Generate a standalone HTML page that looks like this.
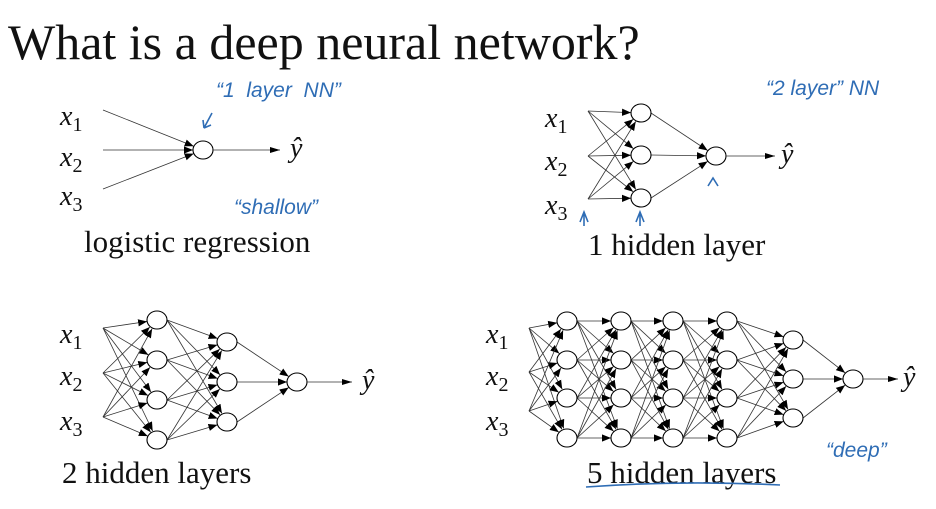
<!DOCTYPE html>
<html><head><meta charset="utf-8"><style>
body{margin:0;width:936px;height:509px;background:#fff;overflow:hidden;position:relative;font-family:"Liberation Serif",serif}
.t{position:absolute;white-space:nowrap;color:#111;line-height:1}
.h{position:absolute;white-space:nowrap;color:#2f6db5;font-family:"Liberation Sans",sans-serif;font-size:21px;font-style:italic;line-height:1}
svg{position:absolute;left:0;top:0}
</style></head><body>
<div class="t" style="left:8px;top:17px;font-size:50px">What is a deep neural network?</div>
<div class="t" style="left:84px;top:226px;font-size:31px">logistic regression</div>
<div class="t" style="left:588px;top:229px;font-size:31px">1 hidden layer</div>
<div class="t" style="left:62px;top:457px;font-size:31px">2 hidden layers</div>
<div class="t" style="left:587px;top:457px;font-size:31px">5 hidden layers</div>
<div class="h" style="left:216px;top:80px">“1 &nbsp;layer &nbsp;NN”</div>
<div class="h" style="left:234px;top:197px">“shallow”</div>
<div class="h" style="left:766px;top:78px">“2 layer” NN</div>
<div class="h" style="left:826px;top:440px">“deep”</div>
<svg width="936" height="509" id="s">
<defs><marker id="a" viewBox="0 0 10 10" refX="10" refY="5" markerWidth="9" markerHeight="9" markerUnits="userSpaceOnUse" orient="auto"><path d="M0,1 L10,5 L0,9z" fill="#000"/></marker>
<marker id="b" viewBox="0 0 10 10" refX="10" refY="5" markerWidth="10" markerHeight="10" markerUnits="userSpaceOnUse" orient="auto"><path d="M0,2 L10,5 L0,8z" fill="#000"/></marker></defs>
<g id="g" stroke="#333" stroke-width="0.8" fill="none"></g>
<g stroke="#2f6db5" stroke-width="1.6" fill="none">
<path d="M212,113 L204,128 M204,128 L203,120 M204,128 L211,125"/>
<path d="M580,222 L584,212 L588,222 M584,212 L584,226"/>
<path d="M636,222 L640,212 L644,222 M640,212 L640,226"/>
<path d="M708,186 L713,178 L718,186"/>
<path d="M586,487 Q680,480 780,485"/>
</g>
<g font-family="Liberation Serif,serif" font-style="italic" font-size="28" fill="#111" id="x"></g>
</svg>
<script>
var g=document.getElementById('g'),X=document.getElementById('x'),NS='http://www.w3.org/2000/svg';
function el(t,a,p){var e=document.createElementNS(NS,t);for(var k in a)e.setAttribute(k,a[k]);(p||g).appendChild(e);return e;}
var RX=10,RY=9;
function line(x1,y1,x2,y2,m){var dx=x2-x1,dy=y2-y1,d=Math.hypot(dx,dy);el('line',{x1:x1,y1:y1,x2:x2-dx/d*RX,y2:y2-dy/d*RX,'marker-end':m?'url(#a)':''});}
function net(layers,ins,ox,out,yx){
 ins.forEach(function(y){layers[0].ys.forEach(function(y2){line(ox,y,layers[0].x,y2,1);});});
 for(var i=1;i<layers.length;i++)layers[i-1].ys.forEach(function(y1){layers[i].ys.forEach(function(y2){line(layers[i-1].x+RX,y1,layers[i].x,y2,1);});});
 layers.forEach(function(L){L.ys.forEach(function(y){el('ellipse',{cx:L.x,cy:y,rx:RX,ry:RY,fill:'#fff',stroke:'#000','stroke-width':1.1});});});
 var o=layers[layers.length-1];el('line',{x1:o.x+RX,y1:o.ys[0],x2:out,y2:o.ys[0],'marker-end':'url(#b)'});
 var t=el('text',{x:yx,y:o.ys[0]+7},X);t.textContent='ŷ';
}
function xs(x,ys){ys.forEach(function(y,i){var t=el('text',{x:x,y:y},X);t.textContent='x';var s=el('tspan',{dy:6,'font-size':20,'font-style':'normal'},t);s.textContent=(i+1);});}
net([{x:203,ys:[150]}],[110,150,189],103,280,290);
xs(60,[125,166,205]);
net([{x:641,ys:[113,155,198]},{x:716,ys:[156]}],[111,156,199],588,775,781);
xs(545,[127,170,214]);
net([{x:157,ys:[320,360,400,440]},{x:227,ys:[342,382,422]},{x:297,ys:[382]}],[328,373,417],103,352,362);
xs(60,[343,385,430]);
var R=[321,360,398,438];
net([{x:567,ys:R},{x:621,ys:R},{x:673,ys:R},{x:727,ys:R},{x:793,ys:[340,379,418]},{x:853,ys:[379]}],[328,372,411],529,898,903);
xs(486,[343,385,430]);
</script>
</body></html>
